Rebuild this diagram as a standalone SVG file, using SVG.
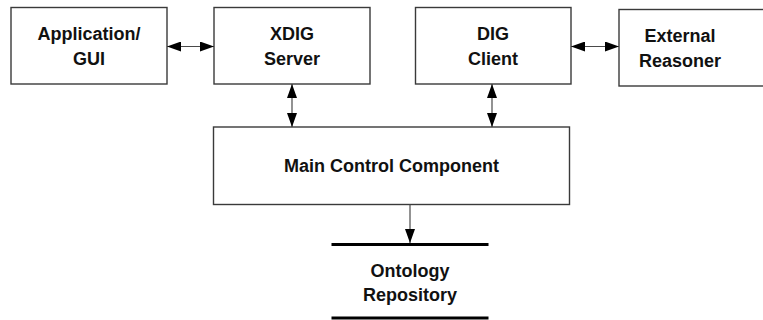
<svg xmlns="http://www.w3.org/2000/svg" width="763" height="320" viewBox="0 0 763 320">
  <style>
    .box { fill: #ffffff; stroke: #3a3a3a; stroke-width: 1.4; }
    .lbl { font-family: "Liberation Sans", Arial, Helvetica, sans-serif; font-weight: bold; font-size: 18px; fill: #111111; text-anchor: middle; }
    .link { stroke: #4a4a4a; stroke-width: 1.2; fill: none; }
    .store { stroke: #000000; stroke-width: 3; }
  </style>
  <defs>
    <marker id="head" markerUnits="userSpaceOnUse" markerWidth="14" markerHeight="10" refX="14" refY="5" orient="auto-start-reverse">
      <path d="M0,0 L14,5 L0,10 z" fill="#000000"/>
    </marker>
  </defs>
  <rect width="763" height="320" fill="#ffffff"/>

  <g id="application-gui">
    <rect class="box" x="11" y="7.5" width="156" height="76.5"/>
    <text class="lbl" x="89" y="40">Application/</text>
    <text class="lbl" x="89" y="65">GUI</text>
  </g>

  <g id="xdig-server">
    <rect class="box" x="214" y="7.5" width="156" height="76.5"/>
    <text class="lbl" x="292" y="40">XDIG</text>
    <text class="lbl" x="292" y="65">Server</text>
  </g>

  <g id="dig-client">
    <rect class="box" x="415.5" y="7.5" width="155.5" height="76.5"/>
    <text class="lbl" x="493" y="40">DIG</text>
    <text class="lbl" x="493" y="65">Client</text>
  </g>

  <g id="external-reasoner">
    <rect class="box" x="619" y="9.5" width="160" height="76.5"/>
    <text class="lbl" x="680" y="42">External</text>
    <text class="lbl" x="680" y="67">Reasoner</text>
  </g>

  <g id="main-control">
    <rect class="box" x="213.5" y="127" width="356" height="77.5"/>
    <text class="lbl" x="391.5" y="172">Main Control Component</text>
  </g>

  <g id="ontology-repository">
    <line class="store" x1="331.5" y1="244.5" x2="488.5" y2="244.5"/>
    <line class="store" x1="331.5" y1="318" x2="488.5" y2="318"/>
    <text class="lbl" x="410" y="277">Ontology</text>
    <text class="lbl" x="410" y="301">Repository</text>
  </g>

  <g id="connectors">
    <line class="link" x1="167" y1="46.5" x2="214" y2="46.5" marker-start="url(#head)" marker-end="url(#head)"/>
    <line class="link" x1="571" y1="46.5" x2="619" y2="46.5" marker-start="url(#head)" marker-end="url(#head)"/>
    <line class="link" x1="292" y1="84" x2="292" y2="127" marker-start="url(#head)" marker-end="url(#head)"/>
    <line class="link" x1="492" y1="84" x2="492" y2="127" marker-start="url(#head)" marker-end="url(#head)"/>
    <line class="link" x1="410" y1="204.5" x2="410" y2="243" marker-end="url(#head)"/>
  </g>
</svg>
